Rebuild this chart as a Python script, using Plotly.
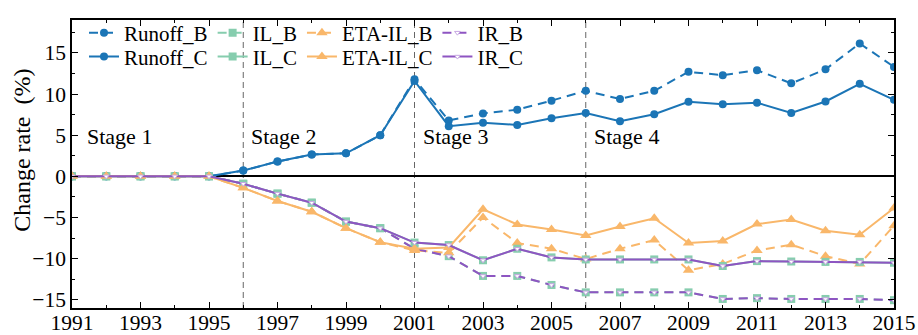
import plotly.graph_objects as go

years = list(range(1991, 2016))

runoff_b = [0, 0, 0, 0, 0, 0.7, 1.8, 2.65, 2.8, 5.0, 11.8, 6.8, 7.65, 8.1, 9.2, 10.4, 9.4, 10.4, 12.7, 12.3, 12.9, 11.3, 13.0, 16.15, 13.3]
runoff_c = [0, 0, 0, 0, 0, 0.7, 1.8, 2.65, 2.8, 5.0, 11.6, 6.1, 6.5, 6.25, 7.05, 7.7, 6.7, 7.55, 9.05, 8.75, 8.95, 7.7, 9.1, 11.25, 9.3]
il_b = [0, 0, 0, 0, 0, -0.9, -2.1, -3.2, -5.5, -6.3, -8.8, -9.7, -12.1, -12.1, -13.2, -14.1, -14.1, -14.1, -14.1, -14.9, -14.8, -14.9, -14.9, -14.9, -15.05]
il_c = [0, 0, 0, 0, 0, -0.9, -2.1, -3.2, -5.5, -6.3, -8.05, -8.35, -10.2, -8.8, -9.85, -10.1, -10.1, -10.1, -10.1, -10.9, -10.3, -10.35, -10.4, -10.4, -10.5]
eta_b = [0, 0, 0, 0, 0, -1.4, -3.0, -4.3, -6.3, -8.0, -9.0, -9.3, -5.0, -8.1, -8.8, -10.05, -8.8, -7.75, -11.4, -10.65, -9.0, -8.3, -9.7, -10.65, -6.0]
eta_c = [0, 0, 0, 0, 0, -1.4, -3.0, -4.3, -6.3, -8.0, -8.8, -8.65, -4.0, -5.85, -6.45, -7.2, -6.1, -5.1, -8.1, -7.85, -5.8, -5.25, -6.6, -7.1, -3.85]
ir_b = il_b
ir_c = il_c

stage_bounds = [1991, 1996, 2001, 2006]
stage_labels = ["Stage 1", "Stage 2", "Stage 3", "Stage 4"]
x_tick_years = list(range(1991, 2016, 2))
y_title = "Change rate\u00a0 (%)"

BLUE = "#1B75B6"
GREEN = "#86CDAE"
ORANGE = "#F9B76A"
PURPLE = "#8E55C2"
FONT = "'Liberation Serif', 'Times New Roman', serif"
DASH = "9px,6px"

fig = go.Figure()

def add(name, y, color, dash, symbol, size, legend, fill=None, lw=2, mline=0, mlcolor=None):
    fig.add_trace(go.Scatter(
        x=years, y=y, name=name, mode="lines+markers", legend=legend,
        line=dict(color=color, width=lw, dash=dash),
        marker=dict(symbol=symbol, size=size, color=fill if fill else color,
                    line=dict(width=mline, color=mlcolor if mlcolor else color)),
    ))

add("Runoff_B", runoff_b, BLUE, DASH, "circle", 8, "legend")
add("IL_B", il_b, GREEN, DASH, "square", 8, "legend")
add("ETA-IL_B", eta_b, ORANGE, DASH, "triangle-up", 10, "legend")
add("IR_B", ir_b, PURPLE, DASH, "triangle-down", 5, "legend", fill="white", mline=1, mlcolor="#C7A8E3")
add("Runoff_C", runoff_c, BLUE, "solid", "circle", 8, "legend2")
add("IL_C", il_c, GREEN, "solid", "square", 8, "legend2")
add("ETA-IL_C", eta_c, ORANGE, "solid", "triangle-up", 10, "legend2")
add("IR_C", ir_c, PURPLE, "solid", "triangle-down", 5, "legend2", fill="white", mline=1, mlcolor="#C7A8E3")

shapes = []
for xb in stage_bounds[1:]:
    shapes.append(dict(type="line", xref="x", yref="paper", x0=xb, x1=xb, y0=0, y1=1,
                       line=dict(color="#666666", width=1, dash="6px,4px"), layer="below"))

annotations = []
for xb, lab in zip(stage_bounds, stage_labels):
    annotations.append(dict(x=xb, y=4.8, xref="x", yref="y", text=lab, showarrow=False,
                            xanchor="left", yanchor="middle", xshift=13 if xb == stage_bounds[0] else 6,
                            font=dict(family=FONT, size=22, color="black")))
annotations.append(dict(x=0, y=0.546, xref="paper", yref="paper", text=y_title, showarrow=False,
                        textangle=-90, xanchor="center", yanchor="middle", xshift=-50,
                        font=dict(family=FONT, size=24, color="black")))

axis_common = dict(showline=True, linecolor="black", linewidth=1.5, mirror="allticks",
                   ticks="inside", ticklen=6, tickwidth=1.2, tickcolor="black",
                   showgrid=False, automargin=False,
                   tickfont=dict(family=FONT, size=21.5, color="black"))

fig.update_layout(
    width=918, height=335,
    margin=dict(l=72, r=24, t=13, b=27),
    paper_bgcolor="white", plot_bgcolor="white",
    font=dict(family=FONT, size=21, color="black"),
    shapes=shapes, annotations=annotations,
    xaxis=dict(range=[1991, 2015], tickvals=x_tick_years, ticktext=[str(v) for v in x_tick_years],
               minor=dict(dtick=1, tick0=1991, ticks="inside", ticklen=3, tickcolor="black"),
               zeroline=False, ticklabelstandoff=-6, **axis_common),
    yaxis=dict(range=[-16, 19], tick0=0, dtick=5,
               minor=dict(dtick=2.5, tick0=0, ticks="inside", ticklen=3, tickcolor="black"),
               zeroline=True, zerolinecolor="black", zerolinewidth=1.5,
               **axis_common),
    legend=dict(orientation="h", x=0.0146, y=1.026, xanchor="left", yanchor="top",
                bgcolor="rgba(0,0,0,0)", font=dict(family=FONT, size=21), itemclick=False),
    legend2=dict(orientation="h", x=0.0146, y=0.943, xanchor="left", yanchor="top",
                 bgcolor="rgba(0,0,0,0)", font=dict(family=FONT, size=21), itemclick=False),
)

fig.write_html("out.html")
